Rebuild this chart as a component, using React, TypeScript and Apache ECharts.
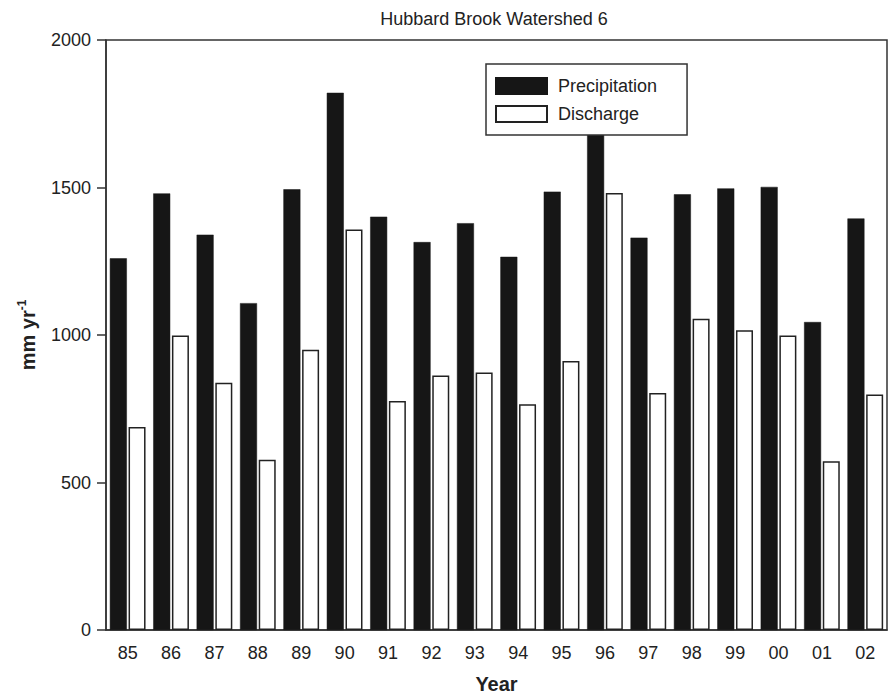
import React, { useEffect, useRef } from "react";
import * as echarts from "echarts";

const years = ["85", "86", "87", "88", "89", "90", "91", "92", "93", "94", "95", "96", "97", "98", "99", "00", "01", "02"];
const precipitation = [1260, 1480, 1340, 1108, 1494, 1821, 1401, 1315, 1379, 1265, 1486, 1750, 1330, 1477, 1497, 1502, 1044, 1395];
const discharge = [688, 998, 838, 577, 950, 1358, 776, 863, 873, 765, 912, 1481, 803, 1055, 1016, 998, 572, 798];
const yTicks = { min: 0, max: 2000, interval: 500 };

const FONT = "'Liberation Sans', Arial, Helvetica, sans-serif";
const INK = "#222";

export default function App() {
  const ref = useRef<HTMLDivElement>(null);
  useEffect(() => {
    if (!ref.current) return;
    const chart = echarts.init(ref.current, null, { renderer: "svg" });
    chart.setOption({
      animation: false,
      backgroundColor: "#fff",
      textStyle: { fontFamily: FONT, color: INK },
      title: {
        text: "Hubbard Brook Watershed 6",
        left: 489,
        textAlign: "center",
        top: 5,
        textStyle: { fontFamily: FONT, fontSize: 18, fontWeight: "normal", color: INK },
      },
      legend: {
        orient: "vertical",
        left: 486,
        top: 64,
        padding: [13, 30, 12, 9],
        itemWidth: 51,
        itemHeight: 16,
        itemGap: 10,
        icon: "rect",
        backgroundColor: "#fff",
        borderColor: "#333",
        borderWidth: 1.5,
        textStyle: { fontFamily: FONT, fontSize: 18, color: INK, padding: [0, 0, 0, 6] },
        data: ["Precipitation", "Discharge"],
      },
      grid: {
        left: 106,
        right: 3,
        top: 40,
        bottom: 65,
        show: true,
        borderColor: "#333",
        borderWidth: 1.5,
        backgroundColor: "transparent",
      },
      xAxis: {
        type: "category",
        data: years,
        boundaryGap: true,
        name: "Year",
        nameLocation: "middle",
        nameGap: 44,
        nameTextStyle: { fontFamily: FONT, fontSize: 20, fontWeight: "bold", color: INK },
        axisLine: { lineStyle: { color: "#333", width: 1.5 } },
        axisTick: { alignWithLabel: true, length: 8, lineStyle: { color: "#333", width: 1.5 } },
        axisLabel: { fontFamily: FONT, fontSize: 18, color: INK, margin: 14 },
        splitLine: { show: false },
      },
      yAxis: {
        type: "value",
        min: yTicks.min,
        max: yTicks.max,
        interval: yTicks.interval,
        name: "{a|mm yr}{b|-1}",
        nameLocation: "middle",
        nameGap: 66,
        nameRotate: 90,
        nameTextStyle: {
          fontFamily: FONT,
          fontWeight: "bold",
          color: INK,
          rich: {
            a: { fontFamily: FONT, fontSize: 20, fontWeight: "bold", color: INK, lineHeight: 24 },
            b: { fontFamily: FONT, fontSize: 12, fontWeight: "bold", color: INK, verticalAlign: "top", lineHeight: 24, padding: [0, 0, 7, 0] },
          },
        },
        axisLine: { show: true, lineStyle: { color: "#333", width: 1.5 } },
        axisTick: { show: true, length: 9, lineStyle: { color: "#333", width: 1.5 } },
        axisLabel: { fontFamily: FONT, fontSize: 18, color: INK, margin: 15, formatter: (v: number) => String(v) },
        splitLine: { show: false },
      },
      series: [
        {
          name: "Precipitation",
          type: "bar",
          data: precipitation,
          barWidth: 17,
          barGap: "10%",
          itemStyle: { color: "#161616", borderColor: "#161616", borderWidth: 0.5 },
        },
        {
          name: "Discharge",
          type: "bar",
          data: discharge,
          barWidth: 17,
          barGap: "10%",
          itemStyle: { color: "#fff", borderColor: "#222", borderWidth: 1.5 },
        },
      ],
    });
    return () => chart.dispose();
  }, []);
  return (
    <div
      ref={ref}
      style={{ position: "absolute", left: 0, top: 0, width: 890, height: 699 }}
    />
  );
}
